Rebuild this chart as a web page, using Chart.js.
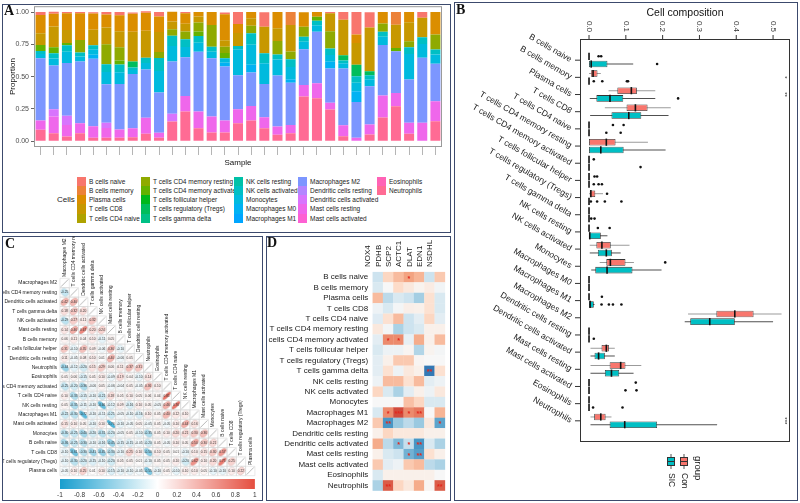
<!DOCTYPE html>
<html>
<head>
<meta charset="utf-8">
<title>Immune cell composition</title>
<script src="https://cdn.jsdelivr.net/npm/chart.js@4.4.1/dist/chart.umd.min.js"></script>
<style>
  body { margin: 0; background: #fff; font-family: "Liberation Sans", Arial, sans-serif; }
  #page { position: relative; width: 800px; height: 503px; overflow: hidden; background: #fff; }
  .box { position: absolute; border: 1.5px solid #3c4a6d; box-sizing: border-box; }
  .tag { position: absolute; font: bold 14px/16px "Liberation Serif", "Times New Roman", serif; color: #111; }
  canvas { position: absolute; }
  .key { position: absolute; width: 9px; height: 9.3px; }
  .lab { position: absolute; font-size: 6.5px; line-height: 9.2px; color: #222; white-space: nowrap; }
</style>
</head>
<body>
<div id="page">
  <div class="box" style="left:2px;top:4px;width:449px;height:229px"></div>
  <div class="box" style="left:454px;top:2px;width:344px;height:499px"></div>
  <div class="box" style="left:2px;top:236px;width:261px;height:265px"></div>
  <div class="box" style="left:266px;top:236px;width:185px;height:265px"></div>

  <canvas id="chartA" width="447" height="175" style="left:3px;top:0px"></canvas>
  <canvas id="chartB" width="343" height="497" style="left:454px;top:3px"></canvas>
  <canvas id="chartC" width="259" height="264" style="left:3px;top:236px"></canvas>
  <canvas id="chartD" width="183" height="263" style="left:267px;top:237px"></canvas>
  <div id="legendA"></div>

  <div class="tag" style="left:4px;top:3px">A</div>
  <div class="tag" style="left:456px;top:2px">B</div>
  <div class="tag" style="left:5px;top:236px">C</div>
  <div class="tag" style="left:267px;top:235px">D</div>
</div>

<script>
// ---- panel A: CIBERSORT proportions per sample ----
const samples = ['1','2','3','4','5','6','7','8','9','10','11','12','13','14','15','16',
  '17','18','19','20','21','22','23','24','25','26','27','28','29','30','31'];

const cellTypes = ['B cells naive', 'B cells memory', 'Plasma cells', 'T cells CD8', 'T cells CD4 naive',
  'T cells CD4 memory resting', 'T cells CD4 memory activated', 'T cells follicular helper',
  'T cells regulatory (Tregs)', 'T cells gamma delta', 'NK cells resting', 'NK cells activated',
  'Monocytes', 'Macrophages M0', 'Macrophages M1', 'Macrophages M2', 'Dendritic cells resting',
  'Dendritic cells activated', 'Mast cells resting', 'Mast cells activated', 'Eosinophils', 'Neutrophils'];

const none     = [0,0,0,0,0,0,0,0,0,0,0,0,0,0,0,0,0,0,0,0,0,0,0,0,0,0,0,0,0,0,0];
const bNaive   = [.023,.015,.01,.01,.01,.02,.026,.01,.01,.035,0,.01,0,0,.015,.093,0,.113,0,0,0,0,.01,.06,.175,.118,0,0,0,.046,0];
const bMemory  = [0,0,0,0,0,0,0,0,0,0,0,0,0,0,0,0,0,0,0,.1,0,0,0,0,0,0,0,.098,0,0,0];
const plasma   = [.142,.10,.13,.206,.126,.10,.124,.14,.14,.12,.075,.08,.036,.10,.2,.07,.05,0,.125,0,.113,.036,0,0,.065,0,.088,0,.08,0,.175];
const cd8      = [.09,.16,.10,0,.121,.13,.124,.23,.21,.155,.06,.06,.046,0,.05,.1,.058,.206,.1,.206,0,0,.14,.276,.168,.34,0,.18,.147,.15,0];
const cd4MemR  = [0,0,0,.098,0,.155,.103,0,0,.046,.05,.06,.07,.168,.05,0,.057,0,.103,.06,.077,0,.134,0,0,0,.064,0,.046,0,.116];
const cd4MemA  = [.046,.046,.018,0,0,0,.031,0,0,0,0,0,.034,0,.04,0,0,0,0,0,0,.031,0,0,0,0,0,.026,0,0,0];
const tregs    = [0,0,0,0,0,0,0,.046,0,0,0,0,0,0,0,0,0,0,0,0,0,0,0,.041,.09,.031,0,0,0,0,0];
const nkAct    = [.025,.04,.05,.03,.03,.06,.06,.02,.04,.1,.08,.06,.052,.04,0,.026,.09,.077,.04,.06,.04,.035,.05,.02,.05,.03,.04,0,.052,.052,.039];
const mono     = [.032,.055,.087,.04,.042,.095,.09,.03,.05,.168,.12,.08,.07,.05,.034,.2,.155,.16,.124,.095,.058,.05,.053,.042,.066,.055,.063,0,.198,.108,.072];
const m0       = [0,0,0,0,.031,0,0,0,0,0,0,0,0,0,.03,0,.06,0,0,.026,0,0,.052,0,.082,0,0,0,0,0,0];
const m2       = [.482,.338,.41,.477,.523,.297,.353,.42,.374,.31,.405,.3,.464,.451,.418,.264,.258,.258,.394,.327,.276,.4,.265,.438,.278,.296,.392,.322,.335,.503,.289];
const dcAct    = [0,.057,.07,0,0,.04,0,0,0,0,.06,0,0,0,0,0,0,0,0,0,0,0,0,0,0,0,0,0,0,0,0];
const mastRest = [.072,.129,.09,.077,.09,.077,.064,.07,.124,.04,0,.12,.129,.124,.093,.108,.113,.085,.064,.064,.09,.116,.052,.085,.026,.077,.17,.103,.085,.142,.155];
const neut     = [.088,.062,.036,.062,.026,.026,.026,.031,.057,.026,.152,.23,.1,.067,.067,.139,.16,.1,.05,.062,.345,.332,.245,.039,0,.052,.183,.271,.057,0,.155];

const cellShares = [bNaive, bMemory, plasma, cd8, none, cd4MemR, cd4MemA, none, tregs, none, none, nkAct,
  mono, m0, none, m2, none, dcAct, mastRest, none, none, neut];
const yTicksA = [0, 0.25, 0.5, 0.75, 1];

// ---- panel B: box plot statistics, Con vs SIC ----
const bCells = cellTypes;
const conLo  = [0,0,.053,.043,0,0,0,0,0,0,0,.002,.029,0,0,.269,0,.004,.004,0,0,.004];
const conQ1  = [0,.005,.077,.102,0,0,0,0,.002,0,0,.02,.047,0,0,.346,0,.034,.056,0,0,.014];
const conMed = [0,.011,.115,.126,0,.047,0,0,.005,0,0,.035,.058,0,0,.396,0,.047,.086,0,0,.032];
const conQ3  = [0,.023,.13,.159,0,.072,0,0,.017,0,0,.059,.099,0,0,.447,0,.054,.099,0,0,.045];
const conHi  = [.001,.032,.18,.222,0,.16,0,0,.038,0,0,.11,.122,0,0,.523,0,.07,.142,0,0,.061];
const conOut = [[.026,.033],[],[],[],[.065,.094],[],[.013],[.015,.022],[.049],[],[.024,.056],[],[.207],[],[.035],[],[],[],[],[.127],[],[]];
const sicLo  = [0,0,.002,.003,0,0,0,0,0,0,0,.002,.006,0,0,.26,0,.004,.004,0,0,.004];
const sicQ1  = [0,0,.02,.061,0,0,0,0,0,0,0,.024,.017,0,0,.275,0,.015,.043,0,0,.056];
const sicMed = [.006,0,.057,.108,0,.032,0,0,0,0,.002,.047,.049,0,.003,.328,0,.026,.061,0,0,.097];
const sicQ3  = [.05,0,.093,.142,0,.094,0,0,0,0,.032,.062,.118,0,.013,.396,0,.043,.082,0,0,.185];
const sicHi  = [.12,0,.18,.216,0,.208,0,0,0,0,.05,.086,.197,0,.015,.50,0,.07,.121,0,0,.348];
const sicOut = [[.185],[.013,.036,.103,.106],[.242],[],[.047,.086],[],[.14],[.013,.026,.035],[.005,.022,.043,.088],[.006,.015],[],[],[],[],[.034,.054,.065,.088],[],[.013],[],[],[.099,.129],[.011,.091],[]];
const bTicks = [0, 0.1, 0.2, 0.3, 0.4, 0.5];
const bSignif = [[1, '*'], [2, '**'], [21, '***']];

// ---- panel C: correlation between cell types (lower triangle) ----
const cNames = ['Macrophages M2', 'T cells CD4 memory resting', 'Dendritic cells activated', 'T cells gamma delta',
  'NK cells activated', 'Mast cells resting', 'B cells memory', 'T cells follicular helper', 'Dendritic cells resting',
  'Neutrophils', 'Eosinophils', 'T cells CD4 memory activated', 'T cells CD4 naive', 'NK cells resting',
  'Macrophages M1', 'Mast cells activated', 'Monocytes', 'B cells naive', 'T cells CD8',
  'T cells regulatory (Tregs)', 'Plasma cells'];
const corrLower = [
  [],
  [-0.25],
  [0.42, 0.40],
  [0.18, 0.32, 0.2],
  [-0.29, 0.27, 0.11, 0.32],
  [0.14, 0.46, 0.67, 0.2, 0.24],
  [0.06, 0.11, 0.04, 0.1, -0.11, 0.05],
  [0.31, -0.1, 0.35, 0.09, -0.06, 0.36, -0.1],
  [0.11, -0.05, 0.08, 0.1, 0.01, 0.4, -0.06, 0.05],
  [-0.44, -0.12, -0.2, 0.15, 0.29, 0.06, 0.11, 0.37, 0.31],
  [0.05, 0.06, -0.15, 0.05, 0.1, -0.09, 0.19, 0.04, -0.1, 0.14],
  [-0.25, -0.2, -0.36, -0.06, 0.05, -0.06, -0.04, 0.05, -0.05, 0.36, 0.1],
  [0.1, -0.33, -0.15, -0.1, -0.21, 0.18, 0.05, 0.1, 0.05, 0.06, 0.04, 0.81],
  [0.05, -0.35, -0.11, -0.1, -0.66, -0.12, 0.09, -0.16, 0.1, 0.05, -0.05, 0.46, 0.76],
  [-0.22, -0.3, -0.72, -0.1, -0.11, -0.21, -0.05, -0.1, -0.16, 0.1, 0.05, 0.4, 0.12, 0.1],
  [0.15, 0.1, 0.05, -0.1, 0.1, -0.76, -0.1, -0.05, 0.05, -0.05, 0.05, -0.05, 0.1, 0.44, 0.16],
  [-0.3, -0.25, -0.4, -0.2, -0.31, -0.2, -0.05, 0.05, -0.1, -0.35, 0.05, 0.1, 0.2, 0.21, 0.3, 0.36],
  [-0.36, -0.25, -0.3, -0.1, -0.16, -0.45, -0.15, -0.15, -0.05, -0.2, 0.05, -0.05, 0.1, 0.05, 0.5, 0.3, 0.21],
  [-0.1, -0.61, -0.3, -0.41, -0.45, -0.3, -0.1, 0.25, 0.1, -0.5, 0.1, 0.05, 0.01, -0.1, 0.1, 0.15, 0.3, 0.57],
  [-0.1, -0.3, -0.2, -0.15, -0.1, -0.2, 0.05, 0.05, 0.01, -0.1, 0.05, 0.05, 0.1, -0.2, 0.62, 0.1, 0.2, 0.75, 0.25],
  [-0.05, 0.1, 0.25, 0.01, 0.1, -0.15, -0.1, -0.1, -0.05, -0.55, -0.1, 0.05, -0.1, 0.1, 0.1, 0.05, -0.1, -0.1, 0.1, 0.22]
];
const cBarTicks = [-1, -0.8, -0.6, -0.4, -0.2, 0, 0.2, 0.4, 0.6, 0.8, 1];

// ---- panel D: gene vs cell-type correlation heatmap ----
const dGenes = ['NOX4', 'PDHB', 'SCP2', 'ACTC1', 'DLAT', 'EDN1', 'NSDHL'];
const dCells = cellTypes.filter(c => c !== 'Macrophages M0');
const dCorr = [
  [-0.2, 0.2, 0.3, 0.38, 0.32, -0.2, 0.25],
  [-0.15, 0, 0.18, 0.1, 0.03, 0.08, -0.03],
  [0.3, -0.25, -0.15, -0.2, -0.32, 0.15, -0.15],
  [-0.05, -0.15, -0.02, 0.06, 0.05, 0.15, -0.15],
  [-0.12, 0.15, 0.3, -0.2, -0.1, 0.2, -0.1],
  [0.1, -0.02, -0.3, -0.2, -0.15, 0.05, 0.05],
  [-0.1, 0.45, 0.45, -0.08, 0.35, 0.05, 0.3],
  [-0.15, -0.05, -0.05, 0.02, -0.28, 0.03, -0.02],
  [-0.1, 0.05, 0.25, 0.25, 0.02, 0, 0],
  [-0.1, 0.15, -0.05, 0.1, 0.05, -0.7, 0.15],
  [-0.05, 0.3, 0.3, 0.15, 0.3, -0.1, -0.05],
  [0.2, -0.15, -0.3, -0.1, 0.05, -0.05, 0.1],
  [0, 0, 0, 0.28, 0.2, -0.15, -0.15],
  [-0.15, 0.45, 0.68, 0.45, 0.5, 0, 0.32],
  [0.25, -0.55, -0.35, -0.25, -0.35, 0.1, -0.5],
  [0.05, 0.2, 0.1, 0.1, 0.1, 0.05, 0.05],
  [0.35, -0.25, -0.42, -0.22, -0.55, -0.15, -0.3],
  [0.05, -0.15, -0.2, -0.45, -0.52, 0.15, 0.05],
  [0.25, -0.1, -0.05, 0.25, 0.3, -0.25, -0.3],
  [-0.15, 0.05, 0.05, 0.05, 0.05, 0.05, 0],
  [-0.3, 0.6, 0.2, 0.1, 0.35, 0.02, 0.6]
];
const dStars = [
  ['B cells naive', 'ACTC1', '*'],
  ['T cells CD4 memory activated', 'PDHB', '*'], ['T cells CD4 memory activated', 'SCP2', '*'],
  ['T cells gamma delta', 'EDN1', '**'],
  ['Macrophages M1', 'PDHB', '*'], ['Macrophages M1', 'SCP2', '***'], ['Macrophages M1', 'ACTC1', '*'], ['Macrophages M1', 'DLAT', '**'],
  ['Macrophages M2', 'PDHB', '**'], ['Macrophages M2', 'NSDHL', '*'],
  ['Dendritic cells activated', 'SCP2', '*'], ['Dendritic cells activated', 'ACTC1', '*'], ['Dendritic cells activated', 'DLAT', '**'],
  ['Mast cells resting', 'ACTC1', '*'], ['Mast cells resting', 'DLAT', '**'],
  ['Neutrophils', 'PDHB', '**'], ['Neutrophils', 'NSDHL', '**']
];

// ggplot-style hue palette (polar Luv)
function hcl(h, c, l) {
  const rad = h * Math.PI / 180;
  const U = c * Math.cos(rad), V = c * Math.sin(rad);
  const Y = Math.pow((l + 16) / 116, 3);
  const u = U / (13 * l) + 0.1978398, v = V / (13 * l) + 0.4683363;
  const X = 9 * Y * u / (4 * v);
  const Z = Y * (12 - 3 * u - 20 * v) / (4 * v);
  const lin = [3.240479 * X - 1.53715 * Y - 0.498535 * Z,
    -0.969256 * X + 1.875992 * Y + 0.041556 * Z,
    0.055648 * X - 0.204043 * Y + 1.057311 * Z];
  return '#' + lin.map(x => {
    x = x <= 0.0031308 ? 12.92 * x : 1.055 * Math.pow(x, 1 / 2.4) - 0.055;
    return Math.round(Math.min(1, Math.max(0, x)) * 255).toString(16).padStart(2, '0');
  }).join('');
}
const cellColors = cellTypes.map((_, i) => hcl(15 + i * 360 / cellTypes.length, 100, 65));
const conColor = '#F8766D', sicColor = '#00BFC4';

Chart.defaults.font.family = '"Liberation Sans", Arial, sans-serif';
Chart.defaults.color = '#222';
Chart.defaults.animation = false;
Chart.defaults.events = [];
Chart.defaults.plugins.legend.display = false;
Chart.defaults.plugins.tooltip.enabled = false;

// grey panel border for A
const panelFrame = {
  id: 'panelFrame',
  afterDraw(chart) {
    const {ctx, chartArea: a} = chart;
    ctx.save();
    ctx.strokeStyle = '#9a9a9a';
    ctx.lineWidth = 1;
    ctx.strokeRect(a.left + 0.5, a.top + 0.5, a.right - a.left - 1, a.bottom - a.top - 1);
    ctx.restore();
  }
};

new Chart(document.getElementById('chartA'), {
  type: 'bar',
  data: {
    labels: samples,
    datasets: cellTypes.map((name, i) => ({
      label: name,
      data: cellShares[i],
      backgroundColor: cellColors[i],
      borderWidth: 0,
      barPercentage: 0.76,
      categoryPercentage: 1
    })).reverse()
  },
  options: {
    responsive: false,
    layout: {padding: {top: 6, right: 8, left: 0, bottom: 0}},
    scales: {
      x: {
        stacked: true,
        grid: {drawOnChartArea: false, offset: false, tickLength: 8, color: '#b5b5b5'},
        border: {display: false},
        ticks: {callback: () => ''},
        title: {display: true, text: 'Sample', font: {size: 8}, color: '#111', padding: {top: 0, bottom: 7.5}},
        afterFit: s => { s.height = 28; }
      },
      y: {
        stacked: true,
        min: -0.045,
        max: 1.045,
        afterBuildTicks: s => { s.ticks = yTicksA.map(v => ({value: v})); },
        ticks: {callback: v => v.toFixed(2), font: {size: 7}, color: '#4d4d4d', padding: 2},
        grid: {drawOnChartArea: false, tickLength: 3, color: '#666'},
        border: {display: false},
        title: {display: true, text: 'Proportion', font: {size: 8}, color: '#111', padding: {top: 5, bottom: 0}},
        afterFit: s => { s.width = 31; }
      }
    }
  },
  plugins: [panelFrame]
});

// legend for A, five columns of five
const legendA = document.getElementById('legendA');
const legCols = [77, 141, 234, 298, 377];
legendA.innerHTML = '<div class="lab" style="left:57px;top:195px;font-size:8px;line-height:10px">Cells</div>' +
  cellTypes.map((name, i) => {
    const left = legCols[Math.floor(i / 5)], top = 176.7 + (i % 5) * 9.2;
    return `<div class="key" style="left:${left}px;top:${top}px;background:${cellColors[i]}"></div>` +
      `<div class="lab" style="left:${left + 12}px;top:${top}px">${name}</div>`;
  }).join('');

// ---- B ----
const boxAxes = {
  id: 'boxAxes',
  afterDraw(chart) {
    const {ctx, chartArea: a, scales: {x, y}} = chart;
    ctx.save();
    ctx.strokeStyle = '#333';
    ctx.lineWidth = 1;
    ctx.strokeRect(a.left + 0.5, a.top + 0.5, a.right - a.left - 1, a.bottom - a.top - 1);
    ctx.fillStyle = '#1a1a1a';
    ctx.font = '8.5px "Liberation Sans", Arial, sans-serif';
    bCells.forEach((name, i) => {
      const py = y.getPixelForValue(i);
      ctx.beginPath(); ctx.moveTo(a.left - 5, py); ctx.lineTo(a.left, py); ctx.stroke();
      ctx.save();
      ctx.translate(a.left - 9, py);
      ctx.rotate(Math.PI / 6);
      ctx.textAlign = 'right'; ctx.textBaseline = 'middle';
      ctx.fillText(name, 0, 0);
      ctx.restore();
    });
    ctx.font = '8px "Liberation Sans", Arial, sans-serif';
    ctx.fillStyle = '#333';
    bTicks.forEach(v => {
      const px = x.getPixelForValue(v);
      ctx.beginPath(); ctx.moveTo(px, a.top - 4); ctx.lineTo(px, a.top); ctx.stroke();
      ctx.save();
      ctx.translate(px, a.top - 7);
      ctx.rotate(Math.PI / 2);
      ctx.textAlign = 'right'; ctx.textBaseline = 'middle';
      ctx.fillText(v.toFixed(1), 0, 0);
      ctx.restore();
    });
    ctx.fillStyle = '#111';
    ctx.font = '10.5px "Liberation Sans", Arial, sans-serif';
    ctx.textAlign = 'center'; ctx.textBaseline = 'middle';
    ctx.fillText('Cell composition', (a.left + a.right) / 2, 10);
    ctx.font = '6px "Liberation Sans", Arial, sans-serif';
    bSignif.forEach(([i, mark]) => {
      ctx.save();
      ctx.translate(a.right - 5, y.getPixelForValue(i));
      ctx.rotate(Math.PI / 2);
      ctx.fillText(mark, 0, 0);
      ctx.restore();
    });
    // group legend, turned like the reference
    const keys = [[226, 'Con', conColor], [213, 'SIC', sicColor]];
    keys.forEach(([kx, label, col]) => {
      ctx.strokeStyle = '#555';
      ctx.beginPath(); ctx.moveTo(kx + 4, 451); ctx.lineTo(kx + 4, 466); ctx.stroke();
      ctx.fillStyle = col;
      ctx.fillRect(kx, 454, 8, 9);
      ctx.strokeStyle = '#333';
      ctx.strokeRect(kx + 0.5, 454.5, 7, 8);
      ctx.beginPath(); ctx.moveTo(kx, 458.5); ctx.lineTo(kx + 8, 458.5); ctx.stroke();
      ctx.save();
      ctx.translate(kx + 4, 470);
      ctx.rotate(Math.PI / 2);
      ctx.fillStyle = '#222';
      ctx.font = '8.5px "Liberation Sans", Arial, sans-serif';
      ctx.textAlign = 'left'; ctx.textBaseline = 'middle';
      ctx.fillText(label, 0, 0);
      ctx.restore();
    });
    ctx.save();
    ctx.translate(244, 453);
    ctx.rotate(Math.PI / 2);
    ctx.fillStyle = '#111';
    ctx.font = '9.5px "Liberation Sans", Arial, sans-serif';
    ctx.textAlign = 'left'; ctx.textBaseline = 'middle';
    ctx.fillText('group', 0, 0);
    ctx.restore();
    ctx.restore();
  }
};

const shift = 0.225;
const barShape = {type: 'bar', indexAxis: 'y', categoryPercentage: 0.9, barPercentage: 0.85};
const outPoints = (lists, dy) => lists.flatMap((vals, i) => vals.map(v => ({x: v, y: i + dy})));

new Chart(document.getElementById('chartB'), {
  type: 'scatter',
  data: {
    datasets: [
      {...barShape, stack: 'con', order: 1, data: bCells.map((_, i) => ({x: [conQ1[i], conQ3[i]], y: i})),
        backgroundColor: conColor, borderColor: '#333', borderWidth: 0.8, borderSkipped: false},
      {...barShape, stack: 'sic', order: 1, data: bCells.map((_, i) => ({x: [sicQ1[i], sicQ3[i]], y: i})),
        backgroundColor: sicColor, borderColor: '#333', borderWidth: 0.8, borderSkipped: false},
      {...barShape, stack: 'con', order: 2, data: bCells.map((_, i) => ({x: [conLo[i], conHi[i]], y: i})),
        backgroundColor: '#9b9b9b', maxBarThickness: 1},
      {...barShape, stack: 'sic', order: 2, data: bCells.map((_, i) => ({x: [sicLo[i], sicHi[i]], y: i})),
        backgroundColor: '#505050', maxBarThickness: 1},
      {type: 'scatter', order: 0, data: conMed.map((m, i) => ({x: m, y: i - shift})),
        pointStyle: 'line', rotation: 90, pointRadius: 3.6, borderColor: '#111', borderWidth: 1.6},
      {type: 'scatter', order: 0, data: sicMed.map((m, i) => ({x: m, y: i + shift})),
        pointStyle: 'line', rotation: 90, pointRadius: 3.6, borderColor: '#111', borderWidth: 1.6},
      {type: 'scatter', order: 0, data: outPoints(conOut, -shift).concat(outPoints(sicOut, shift)),
        pointRadius: 1.3, backgroundColor: '#111', borderWidth: 0}
    ]
  },
  options: {
    responsive: false,
    layout: {padding: {left: 126, top: 36, right: 7, bottom: 58}},
    scales: {
      x: {type: 'linear', min: -0.0245, max: 0.546, stacked: false, display: false},
      y: {type: 'linear', min: -0.7, max: 21.7, reverse: true, display: false,
        afterBuildTicks: s => { s.ticks = bCells.map((_, i) => ({value: i})); }}
    }
  },
  plugins: [boxAxes]
});

// ---- C ----
function corrColor(v) {
  const t = Math.min(1, Math.abs(v));
  const end = v < 0 ? [24, 158, 206] : [229, 78, 63];
  return 'rgb(' + end.map(e => Math.round(255 + (e - 255) * t)).join(',') + ')';
}
const ellipseCache = {};
function ellipseImage(r) {
  const key = r.toFixed(2);
  if (ellipseCache[key]) return ellipseCache[key];
  const cv = document.createElement('canvas');
  cv.width = 12; cv.height = 12;
  const g = cv.getContext('2d');
  g.translate(6, 6);
  if (Math.abs(r) >= 0.999) {
    g.strokeStyle = '#888'; g.lineWidth = 0.6;
    g.beginPath(); g.moveTo(-3.6, 3.6); g.lineTo(3.6, -3.6); g.stroke();
  } else {
    g.rotate(r > 0 ? -Math.PI / 4 : Math.PI / 4);
    g.fillStyle = corrColor(r);
    g.strokeStyle = 'rgba(120,120,120,0.35)';
    g.lineWidth = 0.4;
    g.beginPath();
    g.ellipse(0, 0, 3.9 * Math.sqrt(1 + Math.abs(r)), 3.9 * Math.sqrt(1 - Math.abs(r)), 0, 0, Math.PI * 2);
    g.fill(); g.stroke();
  }
  ellipseCache[key] = cv;
  return cv;
}
const cPoints = [];
corrLower.forEach((row, i) => {
  row.forEach((v, j) => cPoints.push({x: j, y: i, v}));
  cPoints.push({x: i, y: i, v: 1});
});

const corrDecor = {
  id: 'corrDecor',
  afterDatasetsDraw(chart) {
    const {ctx, chartArea: a, scales: {x, y}} = chart;
    ctx.save();
    ctx.fillStyle = '#333';
    ctx.font = '3.2px "Liberation Sans", Arial, sans-serif';
    ctx.textAlign = 'center'; ctx.textBaseline = 'middle';
    cPoints.forEach(p => {
      if (p.x === p.y) return;
      ctx.fillText(p.v.toFixed(2), x.getPixelForValue(p.x), y.getPixelForValue(p.y));
    });
    ctx.fillStyle = '#222';
    ctx.font = '5px "Liberation Sans", Arial, sans-serif';
    ctx.textAlign = 'left';
    cNames.forEach((name, j) => {
      ctx.save();
      ctx.translate(x.getPixelForValue(j), y.getPixelForValue(j) - 6);
      ctx.rotate(-Math.PI / 2);
      ctx.fillText(name, 0, 0);
      ctx.restore();
    });
    // colour bar
    const grad = ctx.createLinearGradient(a.left, 0, a.right, 0);
    cBarTicks.forEach(v => grad.addColorStop((v + 1) / 2, corrColor(v)));
    ctx.fillStyle = grad;
    ctx.fillRect(a.left, 243, a.right - a.left, 10);
    ctx.fillStyle = '#333';
    ctx.font = '6.5px "Liberation Sans", Arial, sans-serif';
    ctx.textAlign = 'center';
    cBarTicks.forEach(v => {
      ctx.fillText(String(Math.round(v * 10) / 10), a.left + (v + 1) / 2 * (a.right - a.left), 259);
    });
    ctx.restore();
  }
};

new Chart(document.getElementById('chartC'), {
  type: 'scatter',
  data: {
    datasets: [
      {data: cPoints, order: 1, clip: false, pointStyle: ctx => ctx.raw ? ellipseImage(ctx.raw.v) : 'circle', pointRadius: 4},
      {data: cPoints, order: 2, clip: false, pointStyle: 'rect', pointRadius: 6.63,
        backgroundColor: 'rgba(0,0,0,0)', borderColor: '#d2d2d2', borderWidth: 0.5}
    ]
  },
  options: {
    responsive: false,
    layout: {padding: {left: 0, top: 42.3, right: 5.5, bottom: 24.3}},
    scales: {
      x: {type: 'linear', min: -0.5, max: 20.5, display: false},
      y: {
        type: 'linear', min: -0.5, max: 20.5, reverse: true,
        afterBuildTicks: s => { s.ticks = cNames.map((_, i) => ({value: i})); },
        ticks: {callback: v => cNames[v], font: {size: 5}, color: '#222', padding: 3, autoSkip: false},
        grid: {display: false, drawTicks: false},
        border: {display: false},
        afterFit: s => { s.width = 57; }
      }
    }
  },
  plugins: [corrDecor]
});

// ---- D ----
function dColor(v) {
  const t = Math.min(1, Math.abs(v) / 0.75);
  const stops = v < 0
    ? [[247, 247, 247], [209, 229, 240], [146, 197, 222], [67, 147, 195], [45, 110, 175]]
    : [[247, 247, 247], [253, 219, 199], [244, 165, 130], [224, 100, 78], [200, 60, 50]];
  const p = t * (stops.length - 1), k = Math.min(stops.length - 2, Math.floor(p)), f = p - k;
  return 'rgb(' + stops[k].map((c, n) => Math.round(c + (stops[k + 1][n] - c) * f)).join(',') + ')';
}
const dPoints = [];
dCorr.forEach((row, r) => row.forEach((v, c) => dPoints.push({x: dGenes[c], y: dCells[r], v})));

const starMarks = {
  id: 'starMarks',
  afterDatasetsDraw(chart) {
    const {ctx, scales: {x, y}} = chart;
    ctx.save();
    ctx.fillStyle = '#e3261c';
    ctx.font = 'bold 7px "Liberation Sans", Arial, sans-serif';
    ctx.textAlign = 'center'; ctx.textBaseline = 'middle';
    dStars.forEach(([cell, gene, mark]) => {
      ctx.fillText(mark, x.getPixelForValue(dGenes.indexOf(gene)), y.getPixelForValue(dCells.indexOf(cell)) + 1.5);
    });
    ctx.restore();
  }
};

new Chart(document.getElementById('chartD'), {
  type: 'scatter',
  data: {
    datasets: [{
      data: dPoints,
      clip: false,
      pointStyle: 'rect',
      borderWidth: 0,
      backgroundColor: ctx => ctx.raw ? dColor(ctx.raw.v) : '#fff',
      pointRadius: ctx => {
        const s = ctx.chart.scales;
        const w = Math.abs(s.x.getPixelForValue(1) - s.x.getPixelForValue(0));
        const h = Math.abs(s.y.getPixelForValue(1) - s.y.getPixelForValue(0));
        return Math.max(w, h) / Math.SQRT2 + 0.15;
      }
    }]
  },
  options: {
    responsive: false,
    layout: {padding: {left: 0, top: 0, right: 5, bottom: 8.5}},
    scales: {
      x: {
        type: 'category', labels: dGenes, position: 'top', offset: true,
        ticks: {minRotation: 90, maxRotation: 90, autoSkip: false, font: {size: 8}, color: '#1a1a1a', padding: 5},
        grid: {display: false, drawTicks: false},
        border: {display: false},
        afterFit: s => { s.height = 35; }
      },
      y: {
        type: 'category', labels: dCells, offset: true,
        ticks: {autoSkip: false, font: {size: 8}, color: '#1a1a1a', padding: 4.5},
        grid: {display: false, drawTicks: false},
        border: {display: false},
        afterFit: s => { s.width = 105.7; }
      }
    }
  },
  plugins: [starMarks]
});
</script>
</body>
</html>
